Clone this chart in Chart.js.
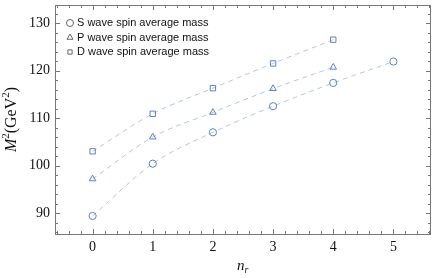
<!DOCTYPE html>
<html>
<head>
<meta charset="utf-8">
<script src="https://cdn.jsdelivr.net/npm/chart.js@4"></script>
<style>
  html, body { margin: 0; padding: 0; background: #fff; }
  #wrap { width: 436px; height: 278px; }
</style>
</head>
<body>
<div id="wrap"><canvas id="massChart" width="436" height="278"></canvas></div>
<script>
// radial quantum number and spin averaged masses M^2 (GeV^2)
const nr = [0, 1, 2, 3, 4, 5];
const sWave = [89.4, 100.4, 107.0, 112.5, 117.4, 121.9];
const pWave = [97.2, 106.0, 111.2, 116.2, 120.7];
const dWave = [103.0, 110.9, 116.3, 121.5, 126.5];
const xTicks = [0, 1, 2, 3, 4, 5];
const yTicks = [90, 100, 110, 120, 130];

const markColor = '#5d82c4';
const lineColor = '#b3c6e8';

function toPoints(vals) {
    return vals.map((v, i) => ({ x: nr[i], y: v }));
}

function series(label, vals, style, radius) {
    return {
        label: label,
        data: toPoints(vals),
        showLine: true,
        borderColor: lineColor,
        borderWidth: 1,
        borderDash: [5, 4],
        cubicInterpolationMode: 'monotone',
        pointStyle: style,
        pointRadius: radius,
        pointBorderColor: markColor,
        pointBorderWidth: 1,
        pointBackgroundColor: 'rgba(0,0,0,0)'
    };
}

// Mathematica-like frame: inward major/minor ticks on all four sides
const framePlugin = {
    id: 'frame',
    afterDraw(chart) {
        const ctx = chart.ctx;
        const a = chart.chartArea;
        const xs = chart.scales.x, ys = chart.scales.y;
        ctx.save();
        ctx.strokeStyle = '#777';
        ctx.lineWidth = 1;
        ctx.strokeRect(a.left + 0.5, a.top + 0.5, a.right - a.left - 1, a.bottom - a.top);
        ctx.beginPath();
        for (let i = -3; i <= 28; i++) {
            const v = i * 0.2;
            if (v < xs.min || v > xs.max) continue;
            const px = Math.round(xs.getPixelForValue(v)) + 0.5;
            const len = i % 5 === 0 ? 5 : 3;
            ctx.moveTo(px, a.bottom); ctx.lineTo(px, a.bottom - len);
            ctx.moveTo(px, a.top); ctx.lineTo(px, a.top + len);
        }
        for (let v = 86; v <= 134; v += 2) {
            if (v < ys.min || v > ys.max) continue;
            const py = Math.round(ys.getPixelForValue(v)) + 0.5;
            const len = v % 10 === 0 ? 5 : 3;
            ctx.moveTo(a.left, py); ctx.lineTo(a.left + len, py);
            ctx.moveTo(a.right, py); ctx.lineTo(a.right - len, py);
        }
        ctx.stroke();

        // tick labels
        ctx.fillStyle = '#111';
        ctx.font = '14px "Liberation Serif", "DejaVu Serif", serif';
        ctx.textAlign = 'center';
        ctx.textBaseline = 'top';
        xTicks.forEach(t => ctx.fillText(String(t), xs.getPixelForValue(t), a.bottom + 6));
        ctx.textAlign = 'right';
        ctx.textBaseline = 'middle';
        yTicks.forEach(t => ctx.fillText(String(t), a.left - 5, ys.getPixelForValue(t)));

        // axis titles
        const cx = (a.left + a.right) / 2;
        ctx.textAlign = 'left';
        ctx.textBaseline = 'alphabetic';
        ctx.font = 'italic 15px "Liberation Serif", serif';
        const nW = ctx.measureText('n').width;
        ctx.fillText('n', cx - 6, 270);
        ctx.font = 'italic 10px "Liberation Serif", serif';
        ctx.fillText('r', cx - 6 + nW, 273);

        ctx.translate(16, (a.top + a.bottom) / 2);
        ctx.rotate(-Math.PI / 2);
        const parts = [
            ['italic 16px "Liberation Serif", serif', 'M', 0],
            ['11px "Liberation Serif", serif', '2', -7],
            ['16px "Liberation Serif", serif', '(GeV', 0],
            ['11px "Liberation Serif", serif', '2', -7],
            ['16px "Liberation Serif", serif', ')', 0]
        ];
        let total = 0;
        parts.forEach(p => { ctx.font = p[0]; total += ctx.measureText(p[1]).width; });
        let x0 = -total / 2;
        parts.forEach(p => {
            ctx.font = p[0];
            ctx.fillText(p[1], x0, 0 + p[2]);
            x0 += ctx.measureText(p[1]).width;
        });
        ctx.restore();

        // legend inside the frame, top left
        ctx.save();
        ctx.font = '11px "Liberation Sans", Arial, sans-serif';
        ctx.textBaseline = 'middle';
        ctx.lineWidth = 1;
        chart.data.datasets.forEach((ds, i) => {
            const y = a.top + 18 + i * 14.5;
            const sx = a.left + 15;
            ctx.fillStyle = 'rgba(0,0,0,0)';
            ctx.strokeStyle = '#666';
            Chart.helpers.drawPoint(ctx, { pointStyle: ds.pointStyle, radius: ds.pointStyle === 'rect' ? 3 : 3.5, borderWidth: 1 }, sx, y);
            ctx.fillStyle = '#111';
            ctx.fillText(ds.label, a.left + 22, y);
        });
        ctx.restore();
    }
};

const ctx = document.getElementById('massChart').getContext('2d');
new Chart(ctx, {
    type: 'scatter',
    data: {
        datasets: [
            series('S wave spin average mass', sWave, 'circle', 3.6),
            series('P wave spin average mass', pWave, 'triangle', 3.8),
            series('D wave spin average mass', dWave, 'rect', 3.8)
        ]
    },
    options: {
        responsive: false,
        animation: false,
        layout: { padding: { top: 2, right: 4, left: 0, bottom: 0 } },
        plugins: {
            legend: { display: false },
            tooltip: { enabled: false }
        },
        scales: {
            x: {
                type: 'linear',
                min: -0.625,
                max: 5.625,
                grid: { display: false },
                border: { display: false },
                ticks: { display: false },
                afterFit(scale) { scale.height = 44; }
            },
            y: {
                min: 85.6,
                max: 133.8,
                grid: { display: false },
                border: { display: false },
                ticks: { display: false },
                afterFit(scale) { scale.width = 55; }
            }
        }
    },
    plugins: [framePlugin]
});
</script>
</body>
</html>
